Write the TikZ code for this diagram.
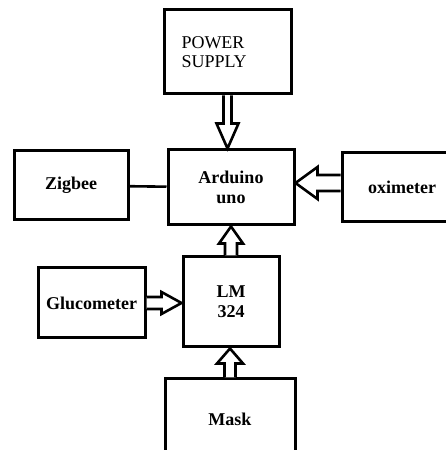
\documentclass[tikz,border=0pt]{standalone}
\usepackage{fontspec}
\setmainfont{Liberation Serif}
\usepackage{tikz}
\usetikzlibrary{positioning,calc}

\begin{document}
\begin{tikzpicture}[
  x=1pt, y=1pt,
  blk/.style={draw=black, line width=3pt, fill=white, font=\fontsize{18}{20}\selectfont\bfseries, align=center},
  plainblk/.style={draw=black, line width=3pt, fill=white, font=\fontsize{18}{19}\selectfont, align=left},
  hollow/.style={draw=black, line width=2.6pt, fill=white, line join=miter},
  wire/.style={draw=black, line width=2.6pt}
]
\useasboundingbox (0,0) rectangle (446,450);
\clip (0,0) rectangle (446,450);

\node[plainblk, minimum width=127, minimum height=84, text width=92] (power) at (227.5, 398) {POWER\\SUPPLY};
\node[blk, minimum width=126, minimum height=75] (arduino) at (231, 262.5) {Arduino\\uno};
\node[blk, minimum width=114, minimum height=69] (zigbee) at (71, 264.5) {Zigbee};
\node[blk, minimum width=120, minimum height=69] (oxi) at (402, 262.5) {oximeter};
\node[blk, minimum width=96, minimum height=90] (lm) at (231, 148) {LM\\324};
\node[blk, minimum width=107, minimum height=70] (gluco) at (91.5, 147) {Glucometer};
\node[blk, minimum width=130, minimum height=81] (mask) at (230, 30.5) {Mask};

\draw[wire] (zigbee) -- (arduino);
% block arrows
\draw[hollow] let \p1=(power.south), \p2=(arduino.north) in
  (\x1-4,\y1) -- (\x1-4,\y2+25) -- (\x1-11,\y2+25) -- (\x1,\y2) -- (\x1+11,\y2+25) -- (\x1+4,\y2+25) -- (\x1+4,\y1);
\draw[hollow] let \p1=(lm.north), \p2=(arduino.south) in
  (\x1-6,\y1) -- (\x1-6,\y2-17) -- (\x1-12,\y2-17) -- (\x1,\y2) -- (\x1+12,\y2-17) -- (\x1+6,\y2-17) -- (\x1+6,\y1);
\draw[hollow] let \p1=(mask.north), \p2=(lm.south) in
  (\x1-5.5,\y1) -- (\x1-5.5,\y2-15) -- (\x1-13,\y2-15) -- (\x1,\y2) -- (\x1+13,\y2-15) -- (\x1+5.5,\y2-15) -- (\x1+5.5,\y1);
\draw[hollow] let \p1=(gluco.east), \p2=(lm.west) in
  (\x1,\y1-6) -- (\x2-20,\y1-6) -- (\x2-20,\y1-11) -- (\x2,\y1) -- (\x2-20,\y1+11) -- (\x2-20,\y1+6) -- (\x1,\y1+6);
\draw[hollow] let \p1=(oxi.west), \p2=(arduino.east) in
  (\x1,\y1-3.5) -- (\x2+22,\y1-3.5) -- (\x2+22,\y1-11.5) -- (\x2,\y1+4.5) -- (\x2+22,\y1+20.5) -- (\x2+22,\y1+12.5) -- (\x1,\y1+12.5);

\end{tikzpicture}
\end{document}
